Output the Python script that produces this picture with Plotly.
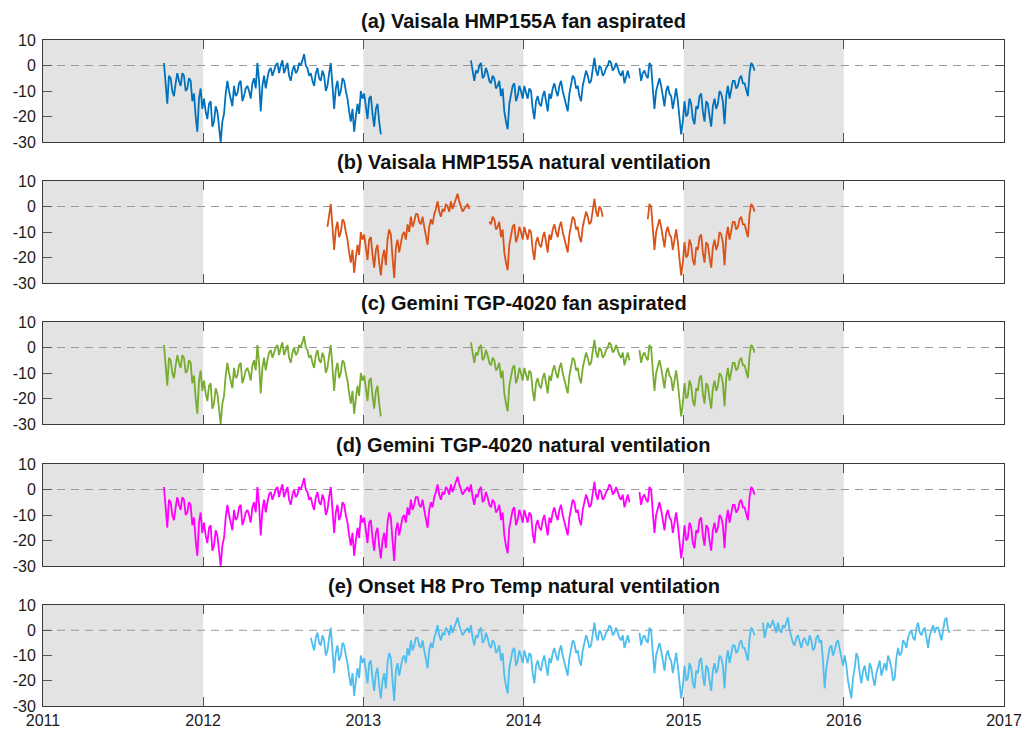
import plotly.graph_objects as go

# ---------------- data: air temperature record, ~8 samples per month ----------------
# Oct-Dec 2011 (24 values)
temp_2011_q4 = [1, -6, -15, -4, -5, -10, -12, -7, -3, -6, -8, -3,
                -4, -10, -9, -5, -6, -14, -11, -20, -26, -13, -9, -17]
temp_2012 = [-13, -18, -21, -15, -14, -24, -22, -16, -18, -24,
             -30, -22, -19, -11, -6, -10, -13, -16, -8, -12,
             -11, -7, -6, -14, -12, -9, -8, -10, -13, -7,
             -5, -9, 1, -6, -18, -8, -4, -9, -5, -2,
             -1, -4, -2, 0, 1, -3, 0, 2, -3, -1,
             1, -4, -6, -2, 0, -3, -2, 1, 0, 2,
             4.5, 0, -1, -4, -3, -6, -8, -3, -1, -5,
             -6, -2, -4, -10, -8, -3, 1, -8, -17, -9,
             -6, -12, -10, -5, -6, -10, -13, -18, -22, -17,
             -26, -20, -15, -19, -10, -13]
temp_2013 = [-11, -16, -21, -13, -12, -19, -24, -17, -15, -22,
             -27, -20, -17, -23, -13, -9, -11, -20, -28, -16,
             -13, -18, -15, -11, -10, -13, -7, -10, -4, -8,
             -6, -3, -3, -6, -7, -4, -8, -12, -15, -8,
             -5, -7, -3, -1, 2, -2, -4, -1, -2, 1,
             0, -2, 2, -1, 1, 3, 5, 2, 0, -2,
             -1, 0, 1, -1, 2, -3, -6, -2, -3, 0,
             1, -5, -4, -1, -3, -6, -7, -4, -5, -9,
             -8, -6, -12, -9, -18, -22, -25, -15, -11, -8,
             -7, -14, -12, -8, -10, -13]
temp_2014 = [-8, -11, -13, -9, -10, -17, -21, -14, -12, -15,
             -16, -12, -10, -14, -18, -11, -13, -9, -7, -10,
             -12, -8, -6, -10, -13, -16, -18, -11, -7, -4,
             -5, -9, -8, -12, -14, -8, -5, -2, -4, -7,
             -6, -1, 3, -2, -4, 0, -1, -4, -3, -1,
             0, 2, 1, -2, -1, 1, -1, -3, -4, -2,
             -7, -4, -2, -5, None, None, None, None, None, -1,
             -6, -3, -2, -4, -5, 1, 0, -9, -17, -10,
             -7, -5, -8, -12, -16, -10, -8, -11, -12, -17,
             -13, -9, -14, -20, -27, -22]
temp_2015 = [-14, -20, -19, -13, -15, -21, -23, -16, -17, -12,
             -11, -18, -22, -14, -15, -20, -24, -16, -13, -17,
             -15, -10, -11, -14, -23, -12, -8, -13, -10, -6,
             -6, -9, -8, -5, -4, -7, -7, -10, -12, -3,
             1, 0, -2, None, None, None, None, 3, -3, 0,
             3, 1, 2, 4, 1, -1, 3, 0, -1, 2,
             1, 3, 5, 0, -3, -5, -6, -3, -2, -5,
             -7, -4, -3, -5, -6, -2, -4, -8, -7, -3,
             -2, -5, -4, -12, -23, -15, -11, -7, -6, -10,
             -8, -5, -4, -7, -10, -14]
# Jan - Aug 2016 (64 values)
temp_2016 = [-10, -14, -20, -24, -27, -19, -15, -9, -11, -17,
             -21, -16, -14, -18, -20, -13, -15, -19, -22, -17,
             -14, -12, -18, -15, -13, -16, -10, -12, -15, -20,
             -19, -11, -7, -10, -9, -4, -5, -7, -3, -1,
             0, -3, -4, 1, 3, -1, -2, 0, 1, -3,
             -7, -2, 0, 2, -1, 1, 1, -2, -4, 0,
             4, 5, 0, -1]

# operating periods of each sensor (decimal years)
windows_a = [(2011.74, 2013.113), (2013.668, 2015.45)]
windows_b = [(2012.775, 2013.665), (2013.785, 2014.505), (2014.775, 2015.45)]
windows_c = [(2011.74, 2013.113), (2013.668, 2015.45)]
windows_d = [(2011.74, 2015.45)]
windows_e = [(2012.67, 2016.68)]

titles = ["(a) Vaisala HMP155A fan aspirated",
          "(b) Vaisala HMP155A natural ventilation",
          "(c) Gemini TGP-4020 fan aspirated",
          "(d) Gemini TGP-4020 natural ventilation",
          "(e) Onset H8 Pro Temp natural ventilation"]
colors = ["#0072BD", "#D95319", "#77AC30", "#FF00FF", "#4DBEEE"]
year_ticks = [2011, 2012, 2013, 2014, 2015, 2016, 2017]
y_ticks = [-30, -20, -10, 0, 10]
y_ticktext = ["-30", "-20", "-10", "0", "10"]
shaded_years = [(2011, 2012), (2013, 2014), (2015, 2016)]

# ---------------- build time axis ----------------
SPY = 96  # samples per year
t_all, v_all = [], []
for year, vals, first in [(2011, temp_2011_q4, 72), (2012, temp_2012, 0), (2013, temp_2013, 0),
                          (2014, temp_2014, 0), (2015, temp_2015, 0), (2016, temp_2016, 0)]:
    for i, v in enumerate(vals):
        t_all.append(year + (first + i + 0.5) / SPY)
        v_all.append(v)


def masked(windows):
    out = []
    for t, v in zip(t_all, v_all):
        inside = any(a <= t <= b for a, b in windows)
        out.append(v if inside else None)
    return out


series = [masked(w) for w in (windows_a, windows_b, windows_c, windows_d, windows_e)]

# ---------------- figure ----------------
W, H = 1025, 731
ml, mr, mt, mb = 43, 21, 40, 25
ph = H - mt - mb
panel_px = [(40, 142), (181, 283), (322, 424), (464, 566), (605, 706)]


def frac(y):
    return 1 - (y - mt) / ph


fig = go.Figure()
for k in range(5):
    xa = "x" if k == 0 else f"x{k+1}"
    ya = "y" if k == 0 else f"y{k+1}"
    fig.add_trace(go.Scatter(x=t_all, y=series[k], mode="lines", xaxis=xa, yaxis=ya,
                             line=dict(color=colors[k], width=1.8), showlegend=False,
                             connectgaps=False))
    top, bot = panel_px[k]
    dom = [frac(bot), frac(top)]
    axis_common = dict(showline=True, mirror="ticks", linecolor="#3a3a3a", linewidth=1,
                       ticks="inside", ticklen=9, tickcolor="#555555", showgrid=False,
                       zeroline=False, automargin=False,
                       tickfont=dict(family="Liberation Sans, Arial", size=16, color="#1a1a1a"))
    xkey = "xaxis" if k == 0 else f"xaxis{k+1}"
    ykey = "yaxis" if k == 0 else f"yaxis{k+1}"
    fig.update_layout({
        xkey: dict(axis_common, range=[2011, 2017], domain=[0, 1], anchor=ya,
                   tickvals=year_ticks, ticktext=[str(y) for y in year_ticks],
                   showticklabels=(k == 4), ticklabelstandoff=0),
        ykey: dict(axis_common, range=[-30, 10], domain=dom, anchor=xa,
                   tickvals=y_ticks, ticktext=y_ticktext, ticklabelstandoff=3),
    })
    for a, b in shaded_years:
        fig.add_shape(type="rect", xref=xa, yref=ya, x0=a, x1=b, y0=-30, y1=10,
                      fillcolor="#e3e3e3", line=dict(width=0), layer="below")
    fig.add_shape(type="line", xref=xa, yref=ya, x0=2011, x1=2017, y0=0, y1=0,
                  line=dict(color="#9a9a9a", width=1, dash="8px,6px"), layer="below")
    fig.add_annotation(text=f"<b>{titles[k]}</b>", xref="paper", yref="paper", x=0.5,
                       y=dom[1], yanchor="middle", xanchor="center", yshift=19,
                       showarrow=False, font=dict(family="Liberation Sans, Arial", size=20,
                                                  color="#111111"))

fig.update_layout(width=W, height=H, margin=dict(l=ml, r=mr, t=mt, b=mb, autoexpand=False),
                  paper_bgcolor="white", plot_bgcolor="white")

fig.write_html("out.html")
